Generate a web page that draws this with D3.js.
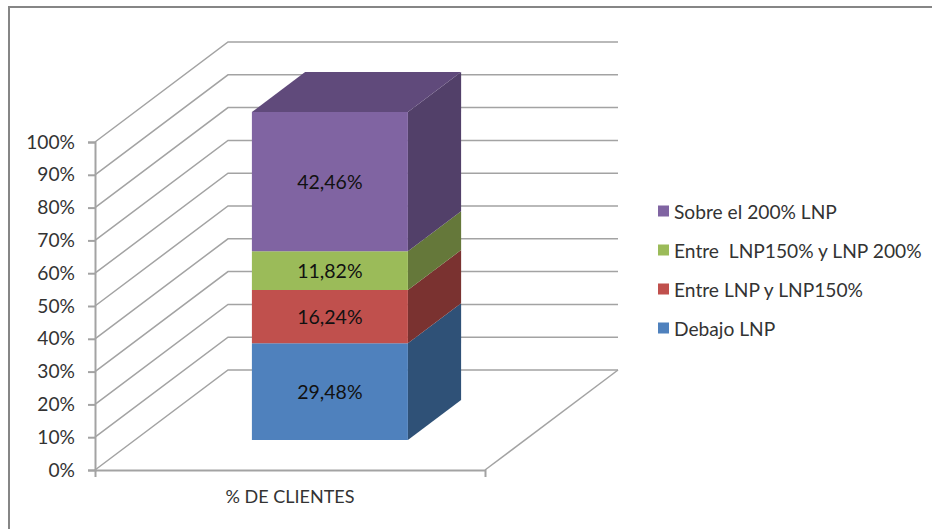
<!DOCTYPE html>
<html>
<head>
<meta charset="utf-8">
<script src="https://cdn.jsdelivr.net/npm/d3@7"></script>
<style>
  html, body { margin: 0; padding: 0; background: #fff; }
  text { font-family: Lato, "Open Sans", sans-serif; }
</style>
</head>
<body>
<div id="chart"></div>
<script>
const categories = ["% DE CLIENTES"];
const seriesNames = ["Debajo LNP", "Entre LNP y LNP150%", "Entre  LNP150% y LNP 200%", "Sobre el 200% LNP"];
const seriesValues = [29.48, 16.24, 11.82, 42.46];
const valueLabels = ["29,48%", "16,24%", "11,82%", "42,46%"];
const yTicks = [0, 10, 20, 30, 40, 50, 60, 70, 80, 90, 100];
const frontColors = ["#4f81bd", "#c0504d", "#9bbb59", "#8064a2"];
const sideColors = ["#2f5177", "#7a3230", "#65783a", "#524069"];
const topColors = ["#3a6496", "#983f3d", "#7b9547", "#604a7b"];

const width = 932;
const height = 529;
const gridColor = "#a3a3a3";

const svg = d3.select("#chart").append("svg")
  .attr("width", width)
  .attr("height", height)
  .style("display", "block");

// chart frame, only top and left show in the crop
svg.append("path")
  .attr("d", "M9,529V7H932")
  .attr("fill", "none")
  .attr("stroke", "#868686")
  .attr("stroke-width", 2);

const y = d3.scaleLinear().domain([0, 100]).range([470, 142]);
const x = d3.scaleBand().domain(categories).range([95, 485]).paddingInner(0).paddingOuter(0.75);

// depth goes 0 (front of the box) to 1 (back wall)
const depthX = d3.scaleLinear().domain([0, 1]).range([0, 133]);
const depthY = d3.scaleLinear().domain([0, 1]).range([0, -100]);

function project(xPos, value, depth) {
  return [xPos + depthX(depth), y(value) + depthY(depth)];
}

const polyLine = d3.line();

// gridlines: floor edge up to the back wall, then along it
svg.append("g")
  .selectAll("path")
  .data(yTicks)
  .enter()
  .append("path")
  .attr("fill", "none")
  .attr("stroke", gridColor)
  .attr("stroke-width", 1.5)
  .attr("d", d => polyLine([project(95, d, 0), project(95, d, 1), project(485, d, 1)]));

// floor right edge
svg.append("path")
  .attr("fill", "none")
  .attr("stroke", gridColor)
  .attr("stroke-width", 1.5)
  .attr("d", polyLine([project(485, 0, 0), project(485, 0, 1)]));

const yAxis = svg.append("g")
  .attr("transform", "translate(95,0)")
  .call(d3.axisLeft(y).tickValues(yTicks).tickSize(7).tickPadding(13).tickFormat(d => d + "%"));

const xAxis = svg.append("g")
  .attr("transform", "translate(0,470)")
  .call(d3.axisBottom(x).tickSizeInner(0).tickSizeOuter(7).tickPadding(20));

[yAxis, xAxis].forEach(axis => {
  axis.selectAll("path, line").attr("stroke", gridColor).attr("stroke-width", 2);
  axis.selectAll("text").style("font-size", "19.2px").attr("fill", "#333");
});
xAxis.selectAll("text").style("font-size", "18px");

// stack the series
let running = 0;
const stacked = seriesValues.map((v, i) => {
  const seg = { index: i, y0: running, y1: running + v, label: valueLabels[i] };
  running += v;
  return seg;
});

const barLeft = x(categories[0]);
const barRight = barLeft + x.bandwidth();
const nearDepth = 0.3;
const farDepth = 0.7;

const bar = svg.append("g");

// side faces
bar.selectAll("path.side")
  .data(stacked)
  .enter()
  .append("path")
  .attr("class", "side")
  .attr("fill", d => sideColors[d.index])
  .attr("d", d => polyLine([
    project(barRight, d.y0, nearDepth),
    project(barRight, d.y0, farDepth),
    project(barRight, d.y1, farDepth),
    project(barRight, d.y1, nearDepth)
  ]) + "Z");

// only the last series shows its top
const topSeg = stacked[stacked.length - 1];
bar.append("path")
  .attr("fill", topColors[topSeg.index])
  .attr("d", polyLine([
    project(barLeft, topSeg.y1, nearDepth),
    project(barRight, topSeg.y1, nearDepth),
    project(barRight, topSeg.y1, farDepth),
    project(barLeft, topSeg.y1, farDepth)
  ]) + "Z");

// front faces
bar.selectAll("path.front")
  .data(stacked)
  .enter()
  .append("path")
  .attr("class", "front")
  .attr("fill", d => frontColors[d.index])
  .attr("d", d => polyLine([
    project(barLeft, d.y0, nearDepth),
    project(barRight, d.y0, nearDepth),
    project(barRight, d.y1, nearDepth),
    project(barLeft, d.y1, nearDepth)
  ]) + "Z");

bar.selectAll("text")
  .data(stacked)
  .enter()
  .append("text")
  .attr("text-anchor", "middle")
  .attr("dominant-baseline", "central")
  .attr("x", project((barLeft + barRight) / 2, 0, nearDepth)[0])
  .attr("y", d => project(0, (d.y0 + d.y1) / 2, nearDepth)[1])
  .attr("fill", "#111")
  .style("font-size", "19.5px")
  .text(d => d.label);

// legend, reversed so it reads like the stack
const legendOrder = d3.range(seriesNames.length).reverse();
const legendY = d3.scalePoint().domain(legendOrder).range([211, 328]);

const legend = svg.append("g")
  .selectAll("g")
  .data(legendOrder)
  .enter()
  .append("g")
  .attr("transform", d => `translate(658,${legendY(d)})`);

legend.append("rect")
  .attr("y", -5.5)
  .attr("width", 11)
  .attr("height", 11)
  .attr("fill", d => frontColors[d]);

legend.append("text")
  .attr("x", 16)
  .attr("dominant-baseline", "central")
  .attr("fill", "#333")
  .style("font-size", "19.2px")
  .style("white-space", "pre")
  .text(d => seriesNames[d]);
</script>
</body>
</html>
